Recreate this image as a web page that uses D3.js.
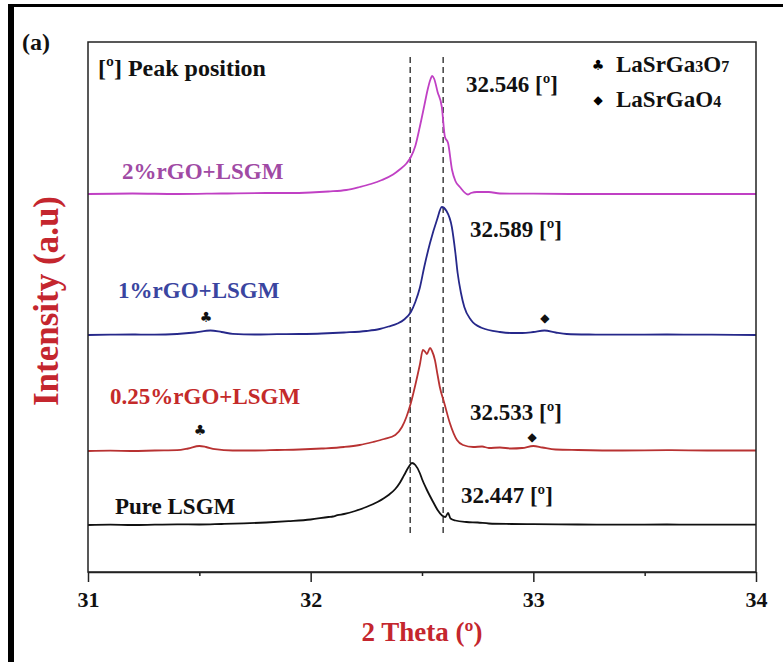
<!DOCTYPE html>
<html>
<head>
<meta charset="utf-8">
<script src="https://cdn.jsdelivr.net/npm/d3@7"></script>
<style>
  body { margin: 0; background: #fff; }
  svg text { font-family: "Liberation Serif", "Times New Roman", serif; font-weight: bold; }
</style>
</head>
<body>
<svg id="chart" width="783" height="662"></svg>
<script>
// XRD patterns around the main LSGM reflection, stacked with offsets
var seriesNames = ["Pure LSGM", "0.25%rGO+LSGM", "1%rGO+LSGM", "2%rGO+LSGM"];
var offsets = [47, 121, 237, 378];

var pureLSGM = [[31.00,0],[31.10,0.4],[31.20,0],[31.30,0.3],[31.40,0.6],[31.50,0.5],[31.60,1],[31.70,1.6],[31.80,2.5],[31.90,3.8],
  [32.00,5.5],[32.08,8],[32.10,8.5],[32.12,9.8],[32.15,11],[32.20,14],[32.25,18],[32.30,23],[32.35,30],[32.38,36],[32.40,42],
  [32.42,50],[32.44,58],[32.455,62],[32.47,60],[32.49,52],[32.50,46],[32.52,36],[32.55,23],[32.57,15],[32.59,9.5],[32.605,8],
  [32.617,12],[32.628,6.5],[32.65,4.5],[32.70,3],[32.75,2.5],[32.80,1.5],[32.90,1],[33.00,0.8],[33.20,0.5],[33.40,0.3],
  [33.60,0.5],[33.80,0.3],[34.00,0.3]];

var rgo025 = [[31.00,0],[31.10,0.3],[31.20,0],[31.30,0.5],[31.40,0.8],[31.45,2.5],[31.50,5],[31.53,4],[31.57,1.8],[31.65,0.5],
  [31.75,0.5],[31.85,1],[31.95,1.5],[32.05,2.5],[32.15,4],[32.22,6],[32.28,9],[32.33,12],[32.38,16],[32.41,24],[32.43,34],
  [32.45,48],[32.47,66],[32.49,86],[32.504,101],[32.515,99],[32.522,97],[32.536,103],[32.545,100],[32.558,91],[32.57,76],
  [32.58,64],[32.60,48],[32.625,28],[32.657,11],[32.684,6],[32.73,4],[32.77,4.5],[32.80,3],[32.85,3.5],[32.90,2.5],[32.95,3],
  [33.00,5],[33.04,3.5],[33.10,1.5],[33.20,1],[33.40,0.5],[33.60,0.8],[33.80,0.5],[34.00,0.5]];

var rgo1 = [[31.00,0],[31.10,0.3],[31.20,0.5],[31.30,0.3],[31.40,1],[31.48,2.5],[31.55,4.5],[31.60,3],[31.65,1.2],[31.75,0.5],
  [31.85,0.8],[31.95,1],[32.05,1.5],[32.15,2.5],[32.25,4],[32.31,6],[32.35,8.5],[32.39,11.5],[32.42,15.5],[32.45,23],[32.47,33],
  [32.49,47],[32.51,68],[32.536,92],[32.567,115],[32.589,128],[32.61,124],[32.634,108],[32.65,82],[32.66,62],[32.675,42],
  [32.69,28],[32.72,15],[32.77,7],[32.85,3],[32.90,2],[32.95,2],[33.00,3],[33.05,4.5],[33.10,2.5],[33.15,1],[33.25,0.5],
  [33.40,0.3],[33.60,0.5],[33.80,0.3],[34.00,0]];

var rgo2 = [[31.00,0],[31.20,0.5],[31.40,0],[31.60,0.5],[31.80,1],[31.90,1],[32.00,1.5],[32.08,2.5],[32.16,4],[32.22,7],
  [32.27,10],[32.32,14],[32.37,19.5],[32.40,24.5],[32.43,30.5],[32.45,37],[32.47,48],[32.49,67],[32.51,88],[32.525,104],
  [32.537,114],[32.546,118],[32.555,115],[32.57,102],[32.589,87],[32.603,57],[32.617,51],[32.635,24],[32.65,13],[32.67,7],
  [32.706,-0.5],[32.72,1],[32.747,2],[32.80,2],[32.85,0.5],[33.00,0.3],[33.20,0],[33.50,0],[33.80,0],[34.00,0]];

var seriesData = [pureLSGM, rgo025, rgo1, rgo2];
var lineColors = ["#111111", "#b83232", "#26288a", "#c040c4"];
var labelColors = ["#111111", "#c42a2a", "#3a45a0", "#a04aa4"];

// label anchors in data space [2theta, intensity]
var seriesLabelPos = [[31.121, 58], [31.099, 168], [31.135, 274], [31.153, 393]];
var peakLabels = ["32.447 [\u00ba]", "32.533 [\u00ba]", "32.589 [\u00ba]", "32.546 [\u00ba]"];
var peakLabelPos = [[32.675, 69], [32.716, 152], [32.716, 335], [32.698, 480]];

// phase markers: [2theta, intensity, symbol]
var phaseMarks = [[31.503, 142, "\u2663"], [32.994, 135, "\u25C6"], [31.53, 255, "\u2663"], [33.052, 254, "\u25C6"]];

var dashedPositions = [32.447, 32.595];
var dashedRange = [39, 515];

var xMajorTicks = [31, 32, 33, 34];
var xMinorTicks = [31.5, 32.5, 33.5];
var legendItems = [["\u2663", "LaSrGa", "3", "O", "7"], ["\u25C6", "LaSrGaO", "4", "", ""]];

var svg = d3.select("#chart");

// outer frame bits from the figure
svg.append("rect").attr("x", 8).attr("y", 4).attr("width", 6).attr("height", 658).attr("fill", "#000");
svg.append("rect").attr("x", 8).attr("y", 4).attr("width", 775).attr("height", 3).attr("fill", "#000");

var margin = {left: 88, right: 27, top: 42, bottom: 90};
var width = 783 - margin.left - margin.right,
    height = 662 - margin.top - margin.bottom;

var x = d3.scaleLinear().domain([31, 34]).range([0, width]);
var y = d3.scaleLinear().domain([0, 530]).range([height, 0]);

var g = svg.append("g").attr("transform", "translate(" + margin.left + "," + margin.top + ")");

// legend background
var legend = g.append("g").attr("transform", "translate(" + (width - 178) + ",2)");
legend.append("rect").attr("width", 176).attr("height", 74).attr("fill", "#fff");

// dashed guide lines
g.selectAll(".guide")
  .data(dashedPositions)
  .enter().append("line")
  .attr("class", "guide")
  .attr("x1", function(d) { return x(d); })
  .attr("x2", function(d) { return x(d); })
  .attr("y1", y(dashedRange[1]))
  .attr("y2", y(dashedRange[0]))
  .attr("stroke", "#333")
  .attr("stroke-width", 1.4)
  .attr("stroke-dasharray", "6,4");

var line = d3.line()
  .x(function(d) { return x(d[0]); })
  .y(function(d) { return y(d[1]); })
  .curve(d3.curveMonotoneX);

for (var i = 0; i < seriesData.length; i++) {
  var off = offsets[i];
  var pts = seriesData[i].map(function(p) { return [p[0], p[1] + off]; });
  g.append("path")
    .datum(pts)
    .attr("fill", "none")
    .attr("stroke", lineColors[i])
    .attr("stroke-width", 1.8)
    .attr("d", line);

  g.append("text")
    .attr("x", x(seriesLabelPos[i][0]))
    .attr("y", y(seriesLabelPos[i][1]))
    .attr("fill", labelColors[i])
    .style("font-size", "23px")
    .text(seriesNames[i]);

  g.append("text")
    .attr("x", x(peakLabelPos[i][0]))
    .attr("y", y(peakLabelPos[i][1]))
    .attr("fill", "#111")
    .style("font-size", "23px")
    .text(peakLabels[i]);
}

g.selectAll(".mark")
  .data(phaseMarks)
  .enter().append("text")
  .attr("class", "mark")
  .attr("x", function(d) { return x(d[0]); })
  .attr("y", function(d) { return y(d[1]); })
  .attr("text-anchor", "middle")
  .attr("dominant-baseline", "central")
  .style("font-family", "DejaVu Sans")
  .style("font-size", function(d) { return d[2] == "\u2663" ? "14px" : "12px"; })
  .attr("fill", "#111")
  .text(function(d) { return d[2]; });

// legend entries
legendItems.forEach(function(item, k) {
  var ly = 28 + k * 35;
  legend.append("text")
    .attr("x", 20).attr("y", ly - 7)
    .attr("text-anchor", "middle")
    .attr("dominant-baseline", "central")
    .style("font-family", "DejaVu Sans")
    .style("font-size", item[0] == "\u2663" ? "14px" : "12px")
    .text(item[0]);
  var t = legend.append("text").attr("x", 38).attr("y", ly).style("font-size", "23px").attr("fill", "#111");
  t.append("tspan").text(item[1]);
  t.append("tspan").style("font-size", "16px").text(item[2]);
  if (item[3]) {
    t.append("tspan").text(item[3]);
    t.append("tspan").style("font-size", "16px").text(item[4]);
  }
});

// peak position note
g.append("text")
  .attr("x", x(31.045))
  .attr("y", y(496))
  .style("font-size", "24px")
  .attr("fill", "#111")
  .text("[\u00ba] Peak position");

// plot box
g.append("rect")
  .attr("width", width).attr("height", height)
  .attr("fill", "none")
  .attr("stroke", "#222")
  .attr("stroke-width", 1.5);

// x axis, major + minor ticks
var xAxis = g.append("g")
  .attr("transform", "translate(0," + height + ")")
  .call(d3.axisBottom(x).tickValues(xMajorTicks).tickSize(10).tickSizeOuter(0).tickPadding(9).tickFormat(d3.format("d")));
xAxis.select(".domain").attr("stroke", "#222").attr("stroke-width", 1.5);
xAxis.selectAll(".tick line").attr("stroke", "#222").attr("stroke-width", 1.5);
xAxis.selectAll("text").attr("fill", "#111").style("font-size", "22px").style("font-family", "Liberation Serif").style("font-weight", "bold");

var xMinor = g.append("g")
  .attr("transform", "translate(0," + height + ")")
  .call(d3.axisBottom(x).tickValues(xMinorTicks).tickSize(4).tickSizeOuter(0).tickFormat(""));
xMinor.select(".domain").remove();
xMinor.selectAll(".tick line").attr("stroke", "#222").attr("stroke-width", 1.5);

// axis titles
svg.append("text")
  .attr("x", margin.left + width / 2)
  .attr("y", 641)
  .attr("text-anchor", "middle")
  .attr("fill", "#c4262e")
  .style("font-size", "27px")
  .text("2 Theta (\u00ba)");

svg.append("text")
  .attr("transform", "translate(58,301) rotate(-90)")
  .attr("text-anchor", "middle")
  .attr("fill", "#c4262e")
  .style("font-size", "35px")
  .text("Intensity (a.u)");

svg.append("text")
  .attr("x", 22).attr("y", 50)
  .attr("fill", "#111")
  .style("font-size", "24px")
  .text("(a)");
</script>
</body>
</html>
